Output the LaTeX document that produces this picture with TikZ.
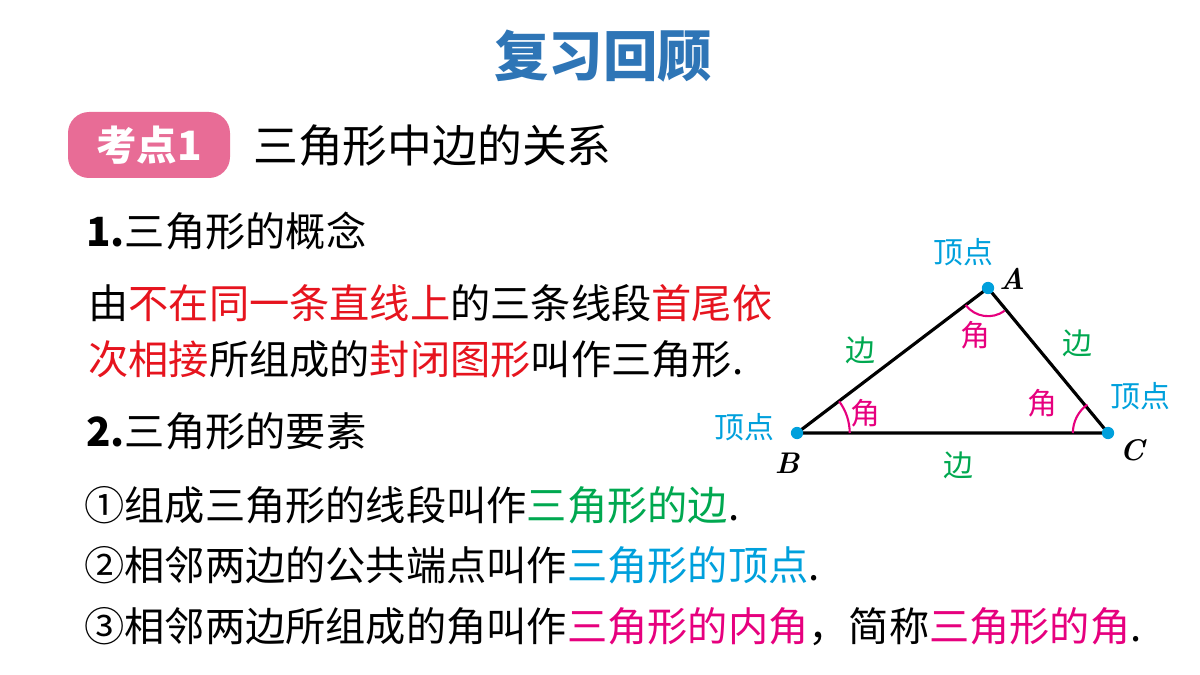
\documentclass[tikz,border=0pt]{standalone}
\usepackage{fontspec}
\setmainfont{Noto Sans CJK SC}
\newfontfamily\latinfont{Latin Modern Roman}
\usetikzlibrary{calc}
\definecolor{titleblue}{RGB}{46,117,182}
\definecolor{badgepink}{RGB}{232,108,150}
\definecolor{keyred}{RGB}{230,20,30}
\definecolor{sidegreen}{RGB}{0,168,80}
\definecolor{vertexblue}{RGB}{0,160,220}
\definecolor{anglepink}{RGB}{230,0,126}
\tikzset{
  body/.style={anchor=west, font=\fontsize{22.9}{26}\selectfont, inner sep=0pt},
  vertex/.style={circle, fill=vertexblue, inner sep=0pt, minimum size=7pt},
  tag/.style={font=\fontsize{17}{20}\selectfont},
  letter/.style={font=\fontsize{17}{20}\selectfont\latinfont\bfseries\itshape},
}
\begin{document}
\begin{tikzpicture}[x=0.02cm, y=-0.02cm]
        \useasboundingbox (0,0) rectangle (1200,675);

        % title and heading
        \node[font=\fontsize{31}{36}\selectfont\bfseries, text=titleblue] (title) at (603,56) {复习回顾};
        \node[fill=badgepink, rounded corners=12pt, minimum width=162*0.02cm, minimum height=66*0.02cm,
              text=white, font=\fontsize{23}{26}\selectfont\bfseries] (badge) at (149,145) {考点1};
        \node[body, font=\fontsize{25.5}{30}\selectfont] (head) at (253,146) {三角形中边的关系};

        % text
        \node[body] (c1) at (86,231) {\textbf{1.}三角形的概念};
        \node[body] (d1) at (88,303) {由\textcolor{keyred}{不在同一条直线上}的三条线段\textcolor{keyred}{首尾依}};
        \node[body] (d2) at (88,359) {\textcolor{keyred}{次相接}所组成的\textcolor{keyred}{封闭图形}叫作三角形.};
        \node[body] (c2) at (86,431) {\textbf{2.}三角形的要素};
        \node[body] (e1) at (84,505) {①组成三角形的线段叫作\textcolor{sidegreen}{三角形的边}.};
        \node[body] (e2) at (84,565) {②相邻两边的公共端点叫作\textcolor{vertexblue}{三角形的顶点}.};
        \node[body] (e3) at (84,627) {③相邻两边所组成的角叫作\textcolor{anglepink}{三角形的内角}，简称\textcolor{anglepink}{三角形的角}.};

        % triangle
        \coordinate (A) at (988,288);
        \coordinate (B) at (797,433);
        \coordinate (C) at (1108,433);
        \draw[line width=1.8pt] (A) -- (B) -- (C) -- cycle;
        \draw[anglepink, line width=1.2pt] ($(A)!16pt!(B)$) arc[start angle=217, end angle=306, radius=16pt];
        \draw[anglepink, line width=1.2pt] ($(B)!30pt!(C)$) arc[start angle=0, end angle=37, radius=30pt];
        \draw[anglepink, line width=1.2pt] ($(C)!20pt!(B)$) arc[start angle=180, end angle=126, radius=20pt];
        \node[vertex] (va) at (A) {};
        \node[vertex] (vb) at (B) {};
        \node[vertex] (vc) at (C) {};

        % labels
        \node[letter] (la) at (1012,279) {A};
        \node[letter] (lb) at (787,463) {B};
        \node[letter] (lc) at (1132,450) {C};
        \node[tag, text=vertexblue] (ta) at (963,252) {顶点};
        \node[tag, text=vertexblue] (tb) at (744,427) {顶点};
        \node[tag, text=vertexblue] (tc) at (1140,396) {顶点};
        \node[tag, text=sidegreen] (sab) at (860,350) {边};
        \node[tag, text=sidegreen] (sac) at (1077,343) {边};
        \node[tag, text=sidegreen] (sbc) at (958,465) {边};
        \node[tag, text=anglepink] (aa) at (975,335) {角};
        \node[tag, text=anglepink] (ab) at (865,413) {角};
        \node[tag, text=anglepink] (ac) at (1042,403) {角};
\end{tikzpicture}
\end{document}
